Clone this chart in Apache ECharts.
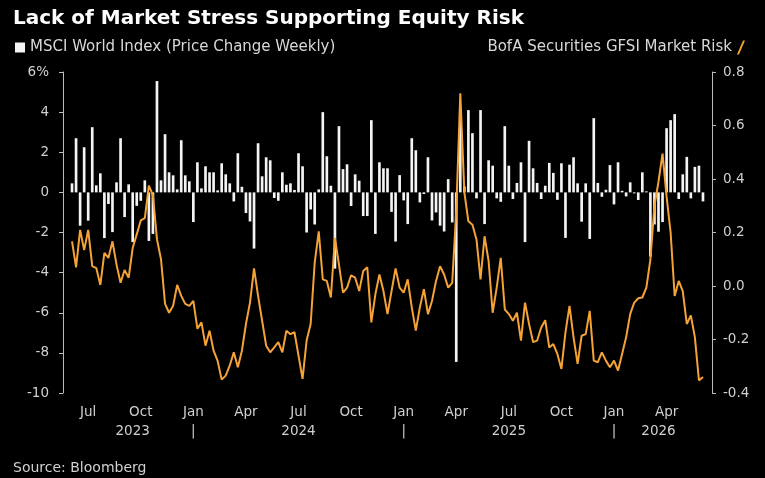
<!DOCTYPE html>
<html>
<head>
<meta charset="utf-8">
<script src="https://cdn.jsdelivr.net/npm/echarts@6/dist/echarts.min.js"></script>
<style>
html, body { margin: 0; padding: 0; background: #000; }
#chart { width: 765px; height: 478px; }
</style>
</head>
<body>
<div id="chart"></div>
<script>
// weekly observations, first one on this Friday
var firstWeek = '2023-06-09';
var monthNames = ['Jan', 'Feb', 'Mar', 'Apr', 'May', 'Jun', 'Jul', 'Aug', 'Sep', 'Oct', 'Nov', 'Dec'];

// MSCI World Index, price change weekly (%)
var msciWeekly = [
  0.45, 2.7, -1.66, 2.25, -1.41, 3.25, 0.35, 0.95, -2.28, -0.58,
  -1.98, 0.5, 2.7, -1.23, 0.4, -2.48, -0.67, -0.42, 0.6, -2.42,
  -2.07, 5.55, 0.6, 2.9, 1.0, 0.85, 0.15, 2.6, 0.85, 0.55,
  -1.48, 1.5, 0.2, 1.3, 1.0, 1.0, 0.1, 1.45, 0.9, 0.45,
  -0.45, 1.95, 0.28, -1.03, -1.45, -2.8, 2.45, 0.8, 1.75, 1.6,
  -0.28, -0.42, 1.0, 0.38, 0.45, 0.12, 1.95, 1.3, -2.0, -0.85,
  -1.6, 0.15, 4.0, 1.8, 0.33, -3.8, 3.3, 1.16, 1.4, -0.68,
  0.9, 0.58, -1.18, -1.18, 3.6, -2.07, 1.5, 1.2, 1.2, -0.97,
  -2.45, 0.86, -0.4, -1.58, 2.7, 2.1, -0.5, -0.08, 1.75, -1.4,
  -1.0, -1.66, -1.95, 0.66, -1.5, -8.45, 4.2, 0.3, 4.1, 2.95,
  -0.3, 4.1, -1.58, 1.6, 1.33, -0.3, -0.47, 3.3, 1.33, -0.33,
  0.47, 1.5, -2.48, 2.57, 1.2, 0.47, -0.33, 0.33, 1.47, 0.97,
  -0.37, 1.45, -2.27, 1.38, 1.75, 0.45, -1.46, 0.45, -2.32, 3.7,
  0.47, -0.22, 0.13, 1.36, -0.6, 1.5, 0.08, -0.2, 0.5, -0.05,
  -0.38, 1.0, 0.05, -3.2, -1.6, -1.96, -1.48, 3.2, 3.6, 3.9,
  -0.33, 0.9, 1.77, -0.3, 1.27, 1.33, -0.45
];

// BofA Securities GFSI Market Risk
var gfsiRisk = [
  0.167, 0.07, 0.21, 0.134, 0.21, 0.074, 0.067, 0.004, 0.124, 0.105,
  0.167, 0.08, 0.012, 0.06, 0.031, 0.142, 0.193, 0.245, 0.254, 0.375,
  0.34, 0.175, 0.1, -0.067, -0.1, -0.074, 0.004, -0.037, -0.067, -0.074,
  -0.056, -0.16, -0.136, -0.223, -0.167, -0.242, -0.28, -0.35, -0.335, -0.297,
  -0.248, -0.304, -0.242, -0.142, -0.062, 0.066, -0.037, -0.13, -0.223, -0.248,
  -0.229, -0.21, -0.248, -0.167, -0.18, -0.173, -0.26, -0.347, -0.204, -0.142,
  0.087, 0.204, 0.025, 0.019, -0.043, 0.18, 0.08, -0.025, -0.006, 0.04,
  0.031, -0.019, 0.056, 0.07, -0.136, -0.031, 0.043, -0.019, -0.105, -0.019,
  0.066, -0.006, -0.025, 0.025, -0.08, -0.167, -0.08, -0.012, -0.105, -0.056,
  0.019, 0.074, 0.043, -0.006, 0.012, 0.28, 0.72, 0.35, 0.242, 0.229,
  0.174, 0.025, 0.186, 0.093, -0.1, -0.006, 0.105, -0.087, -0.105, -0.13,
  -0.1, -0.204, -0.062, -0.142, -0.21, -0.204, -0.155, -0.128, -0.23, -0.217,
  -0.254, -0.31, -0.173, -0.074, -0.192, -0.291, -0.186, -0.18, -0.093, -0.279,
  -0.285, -0.248, -0.279, -0.304, -0.279, -0.316, -0.254, -0.192, -0.105, -0.062,
  -0.046, -0.043, -0.006, 0.099, 0.3, 0.39, 0.495, 0.335, 0.2, -0.037,
  0.019, -0.019, -0.142, -0.11, -0.192, -0.353, -0.34
];

var weeks = [];
var t0 = new Date(firstWeek + 'T00:00:00Z').getTime();
for (var i = 0; i < msciWeekly.length; i++) {
  weeks.push(new Date(t0 + i * 7 * 86400000).toISOString().slice(0, 10));
}

function monthOf(i) { return +weeks[i].slice(5, 7); }
function monthStart(i) { return +weeks[i].slice(8, 10) <= 7; }
function quarterStart(i) { return monthStart(i) && (monthOf(i) - 1) % 3 == 0; }

// year labels centred in each year's span, '|' at the turn of the year
var yearMarks = {};
var spans = {};
weeks.forEach(function (w, i) {
  var y = w.slice(0, 4);
  if (!spans[y]) spans[y] = [i, i];
  spans[y][1] = i;
  if (monthOf(i) == 1 && monthStart(i)) yearMarks[i] = '|';
});
for (var y in spans) {
  yearMarks[Math.round((spans[y][0] + spans[y][1]) / 2)] = y;
}

var font = '"DejaVu Sans", sans-serif';
var orange = '#f5a236';

var chart = echarts.init(document.getElementById('chart'));
chart.setOption({
  backgroundColor: '#000',
  animation: false,
  textStyle: { fontFamily: font },
  title: [{
    text: 'Lack of Market Stress Supporting Equity Risk',
    left: 8, top: 4,
    textStyle: { color: '#fff', fontSize: 20, fontWeight: 'bold', fontFamily: font }
  }, {
    text: 'Source: Bloomberg',
    left: 8, top: 456,
    textStyle: { color: '#d0d0d0', fontSize: 14, fontWeight: 'normal', fontFamily: font }
  }],
  legend: [{
    data: ['MSCI World Index (Price Change Weekly)'],
    left: 10, top: 35,
    icon: 'rect', itemWidth: 10, itemHeight: 10, itemGap: 6,
    textStyle: { color: '#d8d8d8', fontSize: 15, fontFamily: font }
  }, {
    data: ['BofA Securities GFSI Market Risk'],
    right: 15, top: 35, align: 'right',
    icon: 'path://M0,14L2,14L8,0L6,0Z', itemWidth: 8, itemHeight: 14,
    textStyle: { color: '#d8d8d8', fontSize: 15, fontFamily: font }
  }],
  grid: { left: 70, right: 60, top: 72, bottom: 85 },
  xAxis: [{
    type: 'category', data: weeks, position: 'bottom',
    axisLine: { show: false },
    axisTick: {
      alignWithLabel: true, length: 4, lineStyle: { color: '#bbb' },
      interval: function (i) { return monthStart(i); }
    },
    axisLabel: {
      color: '#d0d0d0', fontSize: 13.5, margin: 12,
      interval: function (i) { return quarterStart(i); },
      formatter: function (v) { return monthNames[+v.slice(5, 7) - 1]; }
    }
  }, {
    type: 'category', data: weeks, position: 'bottom',
    axisLine: { show: false },
    axisTick: {
      alignWithLabel: true, length: 7, lineStyle: { color: '#bbb' },
      interval: function (i) { return quarterStart(i); }
    },
    axisLabel: { show: false }
  }, {
    type: 'category', data: weeks, position: 'bottom',
    axisLine: { show: false },
    axisTick: { show: false },
    axisLabel: {
      color: '#d0d0d0', fontSize: 13.5, margin: 31,
      interval: function (i) { return yearMarks[i] !== undefined; },
      formatter: function (v, i) { return yearMarks[i]; }
    }
  }],
  yAxis: [{
    type: 'value', position: 'left', offset: 7,
    min: -10, max: 6, interval: 2,
    axisLine: { show: true, lineStyle: { color: '#bbb' } },
    axisTick: { show: true, length: 4, lineStyle: { color: '#bbb' } },
    splitLine: { show: false },
    axisLabel: {
      color: '#d0d0d0', fontSize: 13.5, margin: 14,
      formatter: function (v) { return v == 6 ? v + '%' : v; }
    }
  }, {
    type: 'value', position: 'right', offset: 7,
    min: -0.4, max: 0.8, interval: 0.2,
    axisLine: { show: true, lineStyle: { color: '#bbb' } },
    axisTick: { show: true, length: 4, lineStyle: { color: '#bbb' } },
    splitLine: { show: false },
    axisLabel: {
      color: '#d0d0d0', fontSize: 13.5, margin: 11,
      formatter: function (v) { return v.toFixed(1); }
    }
  }],
  series: [{
    name: 'MSCI World Index (Price Change Weekly)',
    type: 'bar',
    data: msciWeekly,
    barWidth: '66%',
    itemStyle: { color: '#f4f4f4' }
  }, {
    name: 'BofA Securities GFSI Market Risk',
    type: 'line',
    yAxisIndex: 1,
    data: gfsiRisk,
    symbol: 'none',
    lineStyle: { color: orange, width: 2 },
    itemStyle: { color: orange }
  }]
});
</script>
</body>
</html>
